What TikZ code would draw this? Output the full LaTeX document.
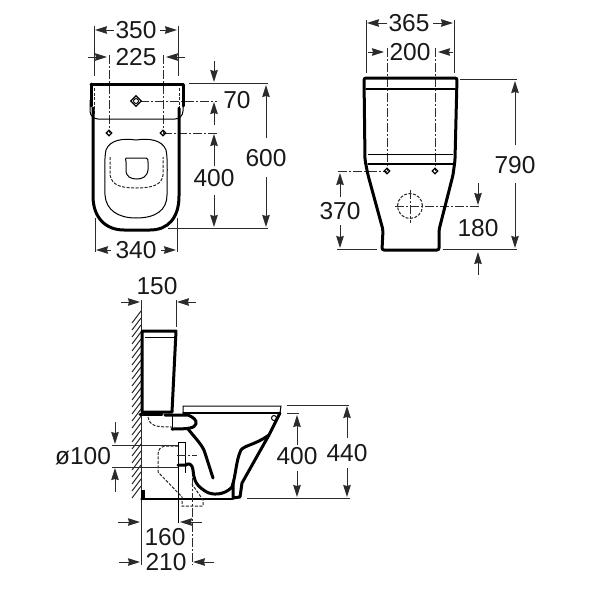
\documentclass[tikz,border=0pt]{standalone}
\usepackage{fontspec}
\setmainfont{Liberation Sans}
\usetikzlibrary{arrows.meta, positioning, shapes.geometric}
\definecolor{DimGray}{HTML}{2B2B2B}
\tikzset{
  dimtext/.style={font=\fontsize{24.5}{24.5}\selectfont, inner sep=0pt, text=black!90},
  dimline/.style={DimGray, line width=1pt},
  dimarrow/.style={DimGray, line width=1pt, -{Stealth[length=12pt,width=7.5pt,inset=1pt]}},
  outline/.style={black, line width=3pt, line join=round, line cap=round},
  thinline/.style={black, line width=1pt},
  hidden/.style={black!85, line width=1pt, dash pattern=on 3pt off 1.5pt},
  centerline/.style={DimGray, line width=1pt, dash pattern=on 9pt off 2pt on 2pt off 2pt},
  hatchline/.style={DimGray, line width=1pt},
  hole/.style={diamond, draw=black, line width=1.2pt, inner sep=0pt, minimum size=6pt},
}
\begin{document}
\begin{tikzpicture}[x=1pt, y=-1pt]
    \useasboundingbox[fill=white] (0,0) rectangle (600,600);

    % Top view: extension lines
    \draw[dimline] (94,26) -- (94,76);
    \draw[dimline] (178,26) -- (178,76);
    \draw[dimline] (95,218) -- (95,252);
    \draw[dimline] (177,218) -- (177,252);
    \draw[dimline] (189,83) -- (268,83);
    \draw[dimline] (168,228) -- (268,228);

    % Top view: centre lines
    \draw[centerline] (109,55) -- (109,133);
    \draw[centerline] (163,55) -- (163,133);
    \draw[centerline] (140,101) -- (217,101);
    \draw[centerline] (163,133) -- (217,133);

    % Top view: cistern and bowl
    \draw[outline] (91,84) -- (183,84) -- (183,106);
    \draw[outline] (91,84) -- (91,106);
    \draw[thinline, rounded corners=8pt] (90,100) -- (90,119) -- (183,119) -- (183,100);
    \draw[hidden] (94,88) -- (94,114);
    \draw[hidden] (179,88) -- (179,114);
    \draw[outline] (93,108) -- (93,196) .. controls (93,218) and (106,230) .. (124,230)
        -- (150,230) .. controls (168,230) and (179,218) .. (179,196) -- (179,108);

    % Top view: seat
    \draw[thinline] (136,140) .. controls (122,138) and (110,140) .. (106,150)
        .. controls (104,158) and (105,180) .. (105,195)
        .. controls (106,210) and (118,218) .. (136,218)
        .. controls (156,218) and (167,210) .. (167,195)
        .. controls (167,180) and (168,158) .. (166,150)
        .. controls (162,140) and (150,138) .. (136,140);
    \draw[hidden] (110,157) -- (110,175) .. controls (112,185) and (120,188) .. (136,188)
        .. controls (152,188) and (162,185) .. (163,175) -- (163,157);
    \draw[thinline] (126,158) -- (146,158) .. controls (148,158) and (148,160) .. (148,162)
        -- (148,170) .. controls (147,177) and (142,179) .. (137,179)
        .. controls (131,179) and (126,177) .. (126,170) -- (126,162)
        .. controls (126,160) and (125,158) .. (126,158);

    % Top view: fixing holes
    \node[hole, minimum size=11pt] (tankhole) at (136,101) {};
    \draw[thinline] (136,101) circle (2.5pt);
    \node[hole] (fixleft) at (109,133) {};
    \node[hole] (fixright) at (163,133) {};

    % Top view: dimensions
    \node[dimtext] (w350) at (136,30) {350};
    \draw[dimarrow] (114,30) -- (95,30);
    \draw[dimarrow] (160,30) -- (177,30);
    \node[dimtext] (w225) at (136,57) {225};
    \draw[dimarrow] (88,57) -- (107,57);
    \draw[dimarrow] (185,57) -- (166,57);
    \node[dimtext] (w340) at (136,250) {340};
    \draw[dimarrow] (111,250) -- (96,250);
    \draw[dimarrow] (161,250) -- (176,250);
    \node[dimtext] (h70) at (237,100) {70};
    \draw[dimarrow] (214,61) -- (214,82);
    \draw[dimarrow] (214,125) -- (214,102);
    \node[dimtext] (h400) at (214,178) {400};
    \draw[dimarrow] (214,166) -- (214,134);
    \draw[dimarrow] (214,195) -- (214,227);
    \node[dimtext] (h600) at (266,158) {600};
    \draw[dimarrow] (266,138) -- (266,85);
    \draw[dimarrow] (266,177) -- (266,227);

    % Front view: extension lines
    \draw[dimline] (366,20) -- (366,73);
    \draw[dimline] (454,20) -- (454,73);
    \draw[dimline] (460,79) -- (517,79);
    \draw[dimline] (337,249) -- (377,249);
    \draw[dimline] (443,249) -- (517,249);

    % Front view: centre lines
    \draw[centerline] (387,48) -- (387,171);
    \draw[centerline] (435,48) -- (435,171);
    \draw[centerline] (338,171) -- (387,171);
    \draw[centerline] (425,206) -- (480,206);

    % Front view: body
    \draw[outline, rounded corners=2pt] (365,160) -- (364,78) -- (457,78) -- (455,160)
        -- (453,175) -- (439,230) -- (439,250) -- (382,250) -- (383,230) -- (368,175) -- cycle;
    \draw[outline, line width=1.4pt] (366,89) -- (455,89);
    \draw[thinline] (368,154) -- (453,154);
    \draw[outline, line width=1.2pt] (368,164) -- (453,164);

    % Front view: holes
    \node[hole] (rearleft) at (387,171) {};
    \node[hole] (rearright) at (435,171) {};
    \draw[hidden] (410,206) circle (12.5pt);
    \draw[centerline] (395,206) -- (425,206);
    \draw[centerline] (410,190) -- (410,223);

    % Front view: dimensions
    \node[dimtext] (w365) at (409,23) {365};
    \draw[dimarrow] (387,23) -- (367,23);
    \draw[dimarrow] (433,23) -- (453,23);
    \node[dimtext] (w200) at (410,52) {200};
    \draw[dimarrow] (368,52) -- (384,52);
    \draw[dimarrow] (453,52) -- (438,52);
    \node[dimtext] (h790) at (515,165) {790};
    \draw[dimarrow] (515,145) -- (515,81);
    \draw[dimarrow] (515,183) -- (515,248);
    \node[dimtext] (h370) at (340,211) {370};
    \draw[dimarrow] (340,197) -- (340,173);
    \draw[dimarrow] (340,225) -- (340,248);
    \node[dimtext] (h180) at (478,228) {180};
    \draw[dimarrow] (478,183) -- (478,205);
    \draw[dimarrow] (478,275) -- (478,252);

    % Side view: wall
    \draw[dimline] (141,300) -- (141,565);
    \foreach \yy in {323,330,...,501} {
        \draw[hatchline] (132,\yy) -- (141,\yy-12);
    }

    % Side view: cistern
    \draw[outline] (142,331) -- (176,331) -- (172,412) -- (142,412) -- cycle;
    \draw[thinline] (145,337) -- (175,337);
    \draw[outline] (140,414) -- (162,414);
    \draw[hidden] (148,417) .. controls (150,426) and (155,427) .. (172,427);

    % Side view: seat and lid
    \draw[thinline] (183,413) -- (183,406) -- (281,406) -- (280,413);
    \draw[outline, line width=1.2pt] (183,413) -- (280,413);
    \draw[thinline] (274,418) circle (2.5pt);

    % Side view: inlet and inner wall
    \draw[outline] (165,415) -- (188,415) .. controls (193,417) and (197,420) .. (196,424)
        .. controls (194,428) and (190,429) .. (172,429);
    \draw[thinline] (172,415) -- (172,429);
    \draw[outline] (188,429) .. controls (197,440) and (203,446) .. (205,453) -- (213,478);

    % Side view: bowl front and trap
    \draw[outline] (280,413) -- (269,435) -- (242,483) -- (240,497) -- (233,498) -- (233,483);
    \draw[outline] (269,435) .. controls (255,445) and (245,445) .. (241,450)
        .. controls (236,460) and (236,475) .. (232,487)
        .. controls (225,495) and (212,496) .. (205,491)
        .. controls (194,484) and (194,478) .. (193,470)
        .. controls (192,463) and (188,463) .. (186,465) -- (178,465);
    \draw[outline, line width=1.2pt] (141,499) -- (233,499);
    \fill[black] (141,490) rectangle (145,499);

    % Side view: hidden outlet
    \draw[hidden] (178,446) -- (165,446) .. controls (160,447) and (158,450) .. (158,455)
        -- (158,472) -- (182,497) -- (182,506) -- (203,506) -- (203,500) -- (192,484);
    \draw[thinline] (178,442) -- (178,523);
    \draw[thinline] (178,442) -- (185,442) -- (185,473);
    \draw[centerline] (177,455) -- (197,455);
    \draw[centerline] (192,478) -- (192,565);

    % Side view: dimensions
    \node[dimtext] (w150) at (157,286) {150};
    \draw[dimarrow] (121,302) -- (140,302);
    \draw[dimline] (176,300) -- (176,327);
    \draw[dimarrow] (196,302) -- (177,302);
    \node[dimtext] (d100) at (83,456) {ø100};
    \draw[dimline] (112,445) -- (178,445);
    \draw[dimline] (112,467) -- (178,467);
    \draw[dimarrow] (115,422) -- (115,444);
    \draw[dimarrow] (115,492) -- (115,468);
    \node[dimtext] (w160) at (165,537) {160};
    \draw[dimarrow] (118,522) -- (140,522);
    \draw[dimarrow] (202,522) -- (180,522);
    \node[dimtext] (w210) at (166,562) {210};
    \draw[dimarrow] (119,562) -- (140,562);
    \draw[dimarrow] (214,562) -- (193,562);
    \draw[dimline] (247,498) -- (350,498);
    \draw[dimline] (287,405) -- (349,405);
    \draw[dimline] (287,413) -- (299,413);
    \node[dimtext] (h400side) at (297,456) {400};
    \draw[dimarrow] (297,445) -- (297,415);
    \draw[dimarrow] (297,471) -- (297,497);
    \node[dimtext] (h440) at (347,453) {440};
    \draw[dimarrow] (347,438) -- (347,406);
    \draw[dimarrow] (347,468) -- (347,497);
\end{tikzpicture}
\end{document}
